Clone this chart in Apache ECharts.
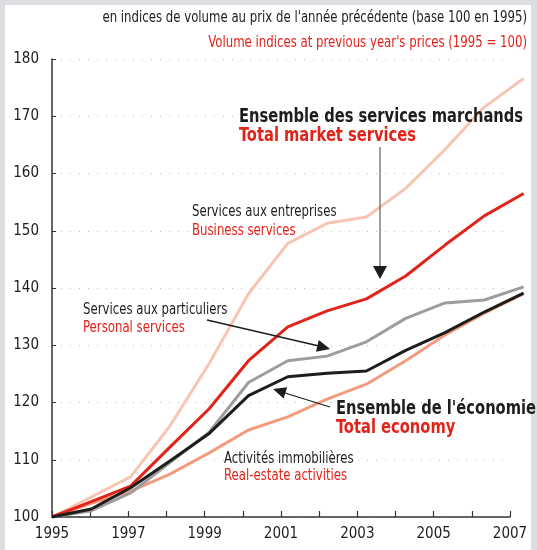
<!DOCTYPE html>
<html>
<head>
<meta charset="utf-8">
<script src="https://cdn.jsdelivr.net/npm/echarts@6/dist/echarts.min.js"></script>
<style>
  html, body { margin: 0; padding: 0; background: #dcdde0; }
  .panel { position: absolute; left: 5px; top: 5px; width: 526px; height: 545px; background: #fff; }
  #chart { position: absolute; left: 0; top: 0; width: 537px; height: 550px; }
</style>
</head>
<body>
<div class="panel"></div>
<div id="chart"></div>
<script>
// years and index values (1995 = 100)
const years = [1995, 1996, 1997, 1998, 1999, 2000, 2001, 2002, 2003, 2004, 2005, 2006, 2007]
const yearLabels = ['1995', '', '1997', '', '1999', '', '2001', '', '2003', '', '2005', '', '2007']
const yTicks = [100, 110, 120, 130, 140, 150, 160, 170, 180]

const businessServices = [100, 103.5, 107.0, 115.9, 126.8, 139.0, 147.8, 151.3, 152.4, 157.4, 164.2, 171.6, 176.6]
const marketServices = [100, 102.7, 105.4, 112.2, 118.9, 127.3, 133.2, 136.0, 138.1, 142.1, 147.5, 152.6, 156.5]
const personalServices = [100, 101.1, 104.2, 109.5, 114.8, 123.5, 127.3, 128.1, 130.6, 134.7, 137.4, 137.9, 140.2]
const totalEconomy = [100, 101.4, 105.1, 109.8, 114.6, 121.2, 124.5, 125.1, 125.5, 129.1, 132.2, 135.8, 139.1]
const realEstate = [100, 102.4, 104.5, 107.5, 111.2, 115.2, 117.5, 120.6, 123.2, 127.3, 131.8, 135.6, 139.0]

const font = "'DejaVu Sans Condensed', 'Liberation Sans Narrow', sans-serif"
const RED = '#e2231a'
const INK = '#1d1d1b'

const chart = echarts.init(document.getElementById('chart'))

const pairs = (vals) => vals.map((v, i) => [years[i], v])

const mkLine = (name, vals, color, z) => ({
  name,
  type: 'line',
  xAxisIndex: 1,
  yAxisIndex: 1,
  data: pairs(vals),
  symbol: 'none',
  z,
  lineStyle: { color, width: 3, join: 'round' },
  emphasis: { disabled: true }
})

// condensed text: the original uses a narrow face, so squeeze horizontally
const text = (str, x, y, color, size, bold, align) => ({
  type: 'text',
  x, y,
  scaleX: bold ? 0.86 : 0.87,
  style: {
    text: str, x: 0, y: 0, fill: color,
    font: (bold ? 'bold ' : '') + size + 'px ' + font,
    align: align || 'left', verticalAlign: 'middle'
  },
  z: 100
})

const arrowLine = (x1, y1, x2, y2, color) => ({
  type: 'line',
  shape: { x1, y1, x2, y2 },
  style: { stroke: color, lineWidth: 1.3 },
  z: 100
})

const head = (points) => ({
  type: 'polygon',
  shape: { points },
  style: { fill: INK },
  z: 100
})

const option = {
  animation: false,
  grid: [
    { left: 52, top: 59, width: 458, height: 458 },
    { left: 52, top: 59, width: 471.6, height: 458 }
  ],
  xAxis: [
    {
      type: 'value', gridIndex: 0, min: 1995, max: 2007, interval: 1,
      axisLine: { lineStyle: { color: '#333', width: 1.5 } },
      axisTick: { inside: true, length: 6, lineStyle: { color: '#333', width: 1.2 } },
      axisLabel: {
        color: INK, fontFamily: font, fontSize: 15, margin: 10,
        formatter: (v) => yearLabels[years.indexOf(v)] || ''
      },
      splitLine: { show: false }
    },
    { type: 'value', gridIndex: 1, min: 1995, max: 2007, show: false }
  ],
  yAxis: [
    {
      type: 'value', gridIndex: 0, min: yTicks[0], max: yTicks[yTicks.length - 1], interval: 10,
      axisLine: { show: true, lineStyle: { color: '#333', width: 1.5 } },
      axisTick: { show: true, inside: true, length: 4, lineStyle: { color: '#333' } },
      axisLabel: { color: INK, fontFamily: font, fontSize: 15, margin: 13 },
      splitLine: { show: true, lineStyle: { color: '#bdbdbd', width: 1, type: [1, 8] } }
    },
    { type: 'value', gridIndex: 1, min: 100, max: 180, show: false }
  ],
  series: [
    mkLine('Business services', businessServices, '#f7c6b3', 2),
    mkLine('Real-estate activities', realEstate, '#f39b7f', 3),
    mkLine('Personal services', personalServices, '#9d9d9f', 4),
    mkLine('Total market services', marketServices, RED, 5),
    mkLine('Total economy', totalEconomy, INK, 6)
  ],
  graphic: [
    text("en indices de volume au prix de l'année précédente (base 100 en 1995)", 527, 18, INK, 15, false, 'right'),
    text("Volume indices at previous year's prices (1995 = 100)", 527, 43, RED, 15, false, 'right'),

    text('Ensemble des services marchands', 239, 117, INK, 19, true),
    text('Total market services', 239, 136, RED, 19, true),
    arrowLine(380, 147, 380, 268, '#6d6d6d'),
    head([[373, 266], [387, 266], [380, 279]]),

    text('Services aux entreprises', 192, 212, INK, 15),
    text('Business services', 192, 231, RED, 15),

    text('Services aux particuliers', 83, 310, INK, 15),
    text('Personal services', 83, 328, RED, 15),
    arrowLine(207, 320, 319, 346, INK),
    head([[318.8, 340.1], [316, 351.7], [330, 349]]),

    text("Ensemble de l'économie", 336, 409, INK, 19, true),
    text('Total economy', 336, 428, RED, 19, true),
    arrowLine(330, 407, 285, 393, INK),
    head([[287.2, 387.2], [283.6, 398.6], [273, 389]]),

    text('Activités immobilières', 224, 459, INK, 15),
    text('Real-estate activities', 224, 476, RED, 15)
  ]
}

chart.setOption(option)
</script>
</body>
</html>
